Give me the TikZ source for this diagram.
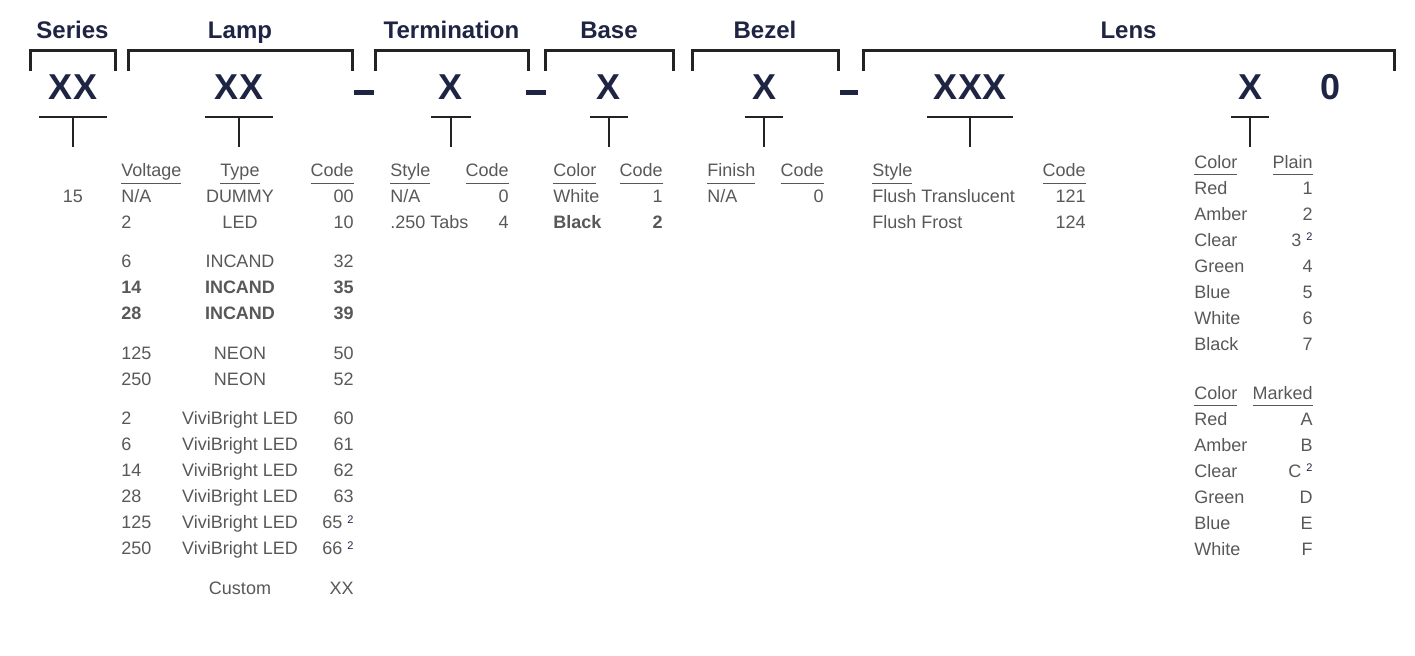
\documentclass[tikz,border=0pt]{standalone}
\usepackage{fontspec}
\setmainfont{Liberation Sans}
\definecolor{partnavy}{RGB}{30,36,66}
\definecolor{textgray}{RGB}{88,88,88}
\definecolor{linegray}{RGB}{35,35,35}
\newcommand{\colhead}[1]{\underline{#1\vphantom{gp}}}
\newcommand{\note}{\hspace{2.5pt}\raisebox{2.6pt}{\textcolor{partnavy}{\fontsize{5.5}{5.5}\selectfont 2}}}

\begin{document}
\begin{tikzpicture}[x=0.5pt,y=-0.5pt,
    hdr/.style={font=\fontsize{12}{14}\selectfont\bfseries,text=partnavy,inner sep=0pt,anchor=base},
    digit/.style={font=\fontsize{18}{22}\selectfont\bfseries,text=partnavy,inner sep=0pt,anchor=base},
    cell/.style={font=\fontsize{9}{11}\selectfont,text=textgray,inner sep=0pt},
    bold/.style={font=\fontsize{9}{11}\selectfont\bfseries},
    lcell/.style={cell,anchor=base west},
    rcell/.style={cell,anchor=base east},
    ccell/.style={cell,anchor=base},
    bracket/.style={draw=linegray,line width=1.5pt},
    tbar/.style={draw=linegray,line width=1.2pt}]
    \useasboundingbox (0,0) rectangle (1415,655);

    \foreach \name/\l/\r/\lbl in {ser/30/115/Series,lamp/128/352/Lamp,term/375/528/Termination,
        base/545/673/Base,bez/692/838/Bezel,lens/863/1394/Lens} {
        \node[hdr] (h\name) at ({(\l+\r)/2},38) {\lbl};
        \draw[bracket] (\l,71) |- (\r,50) -- (\r,71);
    }

    \foreach \name/\x/\txt/\w in {ser/73/XX/68,lamp/239/XX/68,term/451/X/40,base/609/X/38,
        bez/764/X/38,lensa/970/XXX/86,lensb/1250/X/38} {
        \node[digit] (c\name) at (\x,99) {\txt};
        \draw[tbar] (\x-\w/2,117) -- (\x+\w/2,117) (\x,117) -- (\x,147);
    }
    \node[digit] (czero) at (1331,99) {0};

    \foreach \l/\r in {354/374,526/546,840/858}
        \fill[partnavy] (\l,90) rectangle (\r,95);

    \node[ccell] (series) at (73,202.5) {15};
    \node[lcell] (lvolt) at (121,176.5) {\colhead{Voltage}};
    \node[ccell] (ltype) at (240,176.5) {\colhead{Type}};
    \node[rcell] (lcode) at (354,176.5) {\colhead{Code}};
    \foreach \y/\v/\t/\c/\f [count=\i] in {202.5/{N/A}/DUMMY/00/cell,228.5/2/LED/10/cell,
        267.5/6/INCAND/32/cell,293.5/14/INCAND/35/bold,319.5/28/INCAND/39/bold,
        359.5/125/NEON/50/cell,385.5/250/NEON/52/cell,
        424.5/2/ViviBright LED/60/cell,450.5/6/ViviBright LED/61/cell,
        476.5/14/ViviBright LED/62/cell,502.5/28/ViviBright LED/63/cell,
        528.5/125/ViviBright LED/{65\note}/cell,554.5/250/ViviBright LED/{66\note}/cell} {
        \node[lcell,\f] (lv\i) at (121,\y) {\v};
        \node[ccell,\f] (lt\i) at (240,\y) {\t};
        \node[rcell,\f] (lc\i) at (354,\y) {\c};
    }
    \node[ccell] (lcustom) at (240,594.5) {Custom};
    \node[rcell] (lcustomc) at (354,594.5) {XX};

    \node[lcell] (tstyle) at (390,176.5) {\colhead{Style}};
    \node[rcell] (tcode) at (509,176.5) {\colhead{Code}};
    \node[lcell] (ts1) at (390,202.5) {N/A};
    \node[rcell] (tc1) at (509,202.5) {0};
    \node[lcell] (ts2) at (390,228.5) {.250 Tabs};
    \node[rcell] (tc2) at (509,228.5) {4};

    \node[lcell] (bcolor) at (553,176.5) {\colhead{Color}};
    \node[rcell] (bcode) at (663,176.5) {\colhead{Code}};
    \node[lcell] (bs1) at (553,202.5) {White};
    \node[rcell] (bc1) at (663,202.5) {1};
    \node[lcell,bold] (bs2) at (553,228.5) {Black};
    \node[rcell,bold] (bc2) at (663,228.5) {2};

    \node[lcell] (zfinish) at (707,176.5) {\colhead{Finish}};
    \node[rcell] (zcode) at (824,176.5) {\colhead{Code}};
    \node[lcell] (zs1) at (707,202.5) {N/A};
    \node[rcell] (zc1) at (824,202.5) {0};

    \node[lcell] (nstyle) at (872,176.5) {\colhead{Style}};
    \node[rcell] (ncode) at (1086,176.5) {\colhead{Code}};
    \node[lcell] (ns1) at (872,202.5) {Flush Translucent};
    \node[rcell] (nc1) at (1086,202.5) {121};
    \node[lcell] (ns2) at (872,228.5) {Flush Frost};
    \node[rcell] (nc2) at (1086,228.5) {124};

    \node[lcell] (pcolor) at (1194,168) {\colhead{Color}};
    \node[rcell] (pplain) at (1313,168) {\colhead{Plain}};
    \foreach \c/\k [count=\i] in {Red/1,Amber/2,Clear/{3\note},Green/4,Blue/5,White/6,Black/7} {
        \node[lcell] (pc\i) at (1194,168+26*\i) {\c};
        \node[rcell] (pk\i) at (1313,168+26*\i) {\k};
    }
    \node[lcell] (mcolor) at (1194,399) {\colhead{Color}};
    \node[rcell] (mmarked) at (1313,399) {\colhead{Marked}};
    \foreach \c/\k [count=\i] in {Red/A,Amber/B,Clear/{C\note},Green/D,Blue/E,White/F} {
        \node[lcell] (mc\i) at (1194,399+26*\i) {\c};
        \node[rcell] (mk\i) at (1313,399+26*\i) {\k};
    }
\end{tikzpicture}
\end{document}
